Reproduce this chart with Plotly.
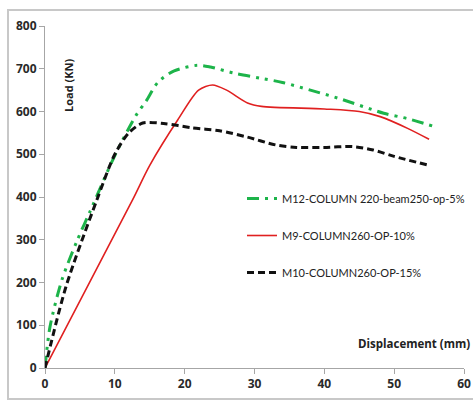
import plotly.graph_objects as go

# Data
green_x = [0, 0.7, 2.4, 4.6, 6.5, 10, 13, 14.5, 16.2, 18.5, 21.8, 23.7, 27, 30.8, 34, 38, 42, 48.5, 52, 55.5]
green_y = [0, 95, 205, 298, 368, 497, 590, 625, 669, 695, 708, 704, 690, 678, 668, 650, 631, 596, 583, 566]

red_x = [0, 12.5, 15, 19, 22, 24, 26, 29, 31, 40, 45, 48, 52, 55]
red_y = [0, 392, 474, 580, 650, 662, 650, 620, 612, 606, 600, 588, 560, 535]

black_x = [0, 3, 7.4, 10, 12, 14, 17, 21, 25, 29, 33, 36, 40, 44, 47, 50, 55]
black_y = [0, 190, 392, 500, 550, 573, 572, 562, 555, 540, 522, 516, 516, 518, 510, 495, 474]

names = ["M12-COLUMN 220-beam250-op-5%", "M9-COLUMN260-OP-10%", "M10-COLUMN260-OP-15%"]

x_ticks = [0, 10, 20, 30, 40, 50, 60]
y_ticks = [0, 100, 200, 300, 400, 500, 600, 700, 800]

FW, FH = 473, 401
L, R, T, B = 45, 464, 26, 368  # pixels of plot area
W, H = R - L, B - T
def px(x): return (x - L) / W
def py(y): return (B - y) / H

fig = go.Figure()
fig.add_trace(go.Scatter(x=green_x, y=green_y, mode="lines", name=names[0], legendgroup="a",
                         line=dict(color="#1db44a", width=3, dash="12px,6px,3px,6px,3px,6px", shape="spline", smoothing=0.8)))
fig.add_trace(go.Scatter(x=red_x, y=red_y, mode="lines", name=names[1], legendgroup="b",
                         line=dict(color="#e02020", width=1.6, shape="spline", smoothing=0.8)))
fig.add_trace(go.Scatter(x=black_x, y=black_y, mode="lines", name=names[2], legendgroup="c",
                         line=dict(color="#111111", width=3, dash="7px,4px", shape="spline", smoothing=0.8)))

axis_common = dict(showgrid=False, zeroline=False, showline=True, linecolor="#a6a6a6", linewidth=1,
                   ticks="outside", ticklen=5, tickcolor="#a6a6a6", automargin=False,
                   tickfont=dict(family="Open Sans", size=12, color="#2a2a2a", weight="bold"))

fig.update_xaxes(range=[0, 60], tickvals=x_ticks, **axis_common)
fig.update_yaxes(range=[0, 800], tickvals=y_ticks, **axis_common)

fig.update_layout(
    width=FW, height=FH,
    margin=dict(l=L, r=FW - R, t=T, b=FH - B, autoexpand=False),
    paper_bgcolor="white", plot_bgcolor="white",
    font=dict(family="Lato", color="#222222"),
    showlegend=True,
    legend=dict(x=px(242), y=py(184), xanchor="left", yanchor="top", bgcolor="rgba(0,0,0,0)",
                font=dict(family="Lato", size=11, color="#222222"),
                itemwidth=30, tracegroupgap=18, traceorder="grouped"),
)

fig.add_annotation(text="Load (KN)", x=px(59), y=py(57), xref="paper", yref="paper", showarrow=False,
                   textangle=-90, font=dict(family="Open Sans", size=11, color="#222222", weight="bold"))
fig.add_annotation(text="Displacement (mm)", x=px(472), y=py(353), xref="paper", yref="paper",
                   xanchor="right", showarrow=False,
                   font=dict(family="Open Sans", size=11.5, color="#222222", weight="bold"))
fig.add_shape(type="rect", xref="paper", yref="paper", x0=px(8), y0=py(399), x1=px(480), y1=py(10),
              line=dict(color="#c8c8c8", width=2), fillcolor="rgba(0,0,0,0)", layer="below")

fig.write_html("out.html", config={"displayModeBar": False},
               post_script="document.body.style.margin='0';document.body.style.overflow='hidden';")
